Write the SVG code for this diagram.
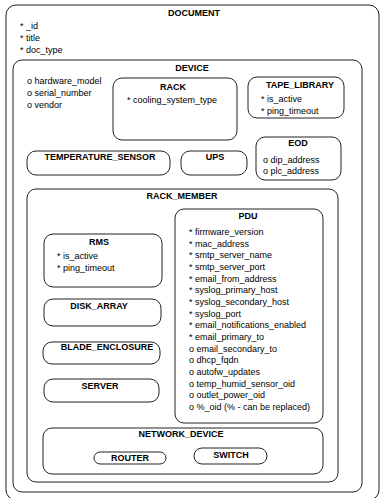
<svg xmlns="http://www.w3.org/2000/svg" width="381" height="498" viewBox="0 0 381 498">
<style>
.box{fill:#fff;stroke:#222;stroke-width:1}
.t{font-family:"Liberation Sans",Arial,sans-serif;font-size:9px;font-weight:bold;fill:#000;text-anchor:middle}
.a{font-family:"Liberation Sans",Arial,sans-serif;font-size:9px;fill:#000}
</style>
<rect width="381" height="498" fill="#fff"/>
<g id="DOCUMENT">
<rect class="box" x="6" y="5" width="373" height="495" rx="10"/>
<text class="t" x="194" y="16">DOCUMENT</text>
<text class="a" x="20" y="29">* _id</text>
<text class="a" x="20" y="41">* title</text>
<text class="a" x="20" y="53">* doc_type</text>
</g>
<g id="DEVICE">
<rect class="box" x="13" y="60" width="349" height="432" rx="9"/>
<text class="t" x="192" y="71">DEVICE</text>
<text class="a" x="27" y="84">o hardware_model</text>
<text class="a" x="27" y="96">o serial_number</text>
<text class="a" x="27" y="108">o vendor</text>
</g>
<g id="RACK">
<rect class="box" x="113" y="78" width="124" height="62" rx="9"/>
<text class="t" x="173" y="90">RACK</text>
<text class="a" x="127" y="103">* cooling_system_type</text>
</g>
<g id="TAPE_LIBRARY">
<rect class="box" x="248" y="77" width="96" height="41" rx="9"/>
<text class="t" x="300" y="88">TAPE_LIBRARY</text>
<text class="a" x="261" y="102">* is_active</text>
<text class="a" x="261" y="114">* ping_timeout</text>
</g>
<g id="TEMPERATURE_SENSOR">
<rect class="box" x="27" y="151" width="143" height="24" rx="9"/>
<text class="t" x="100" y="160">TEMPERATURE_SENSOR</text>
</g>
<g id="UPS">
<rect class="box" x="181" y="151" width="66" height="24" rx="9"/>
<text class="t" x="215" y="160">UPS</text>
</g>
<g id="EOD">
<rect class="box" x="256" y="137" width="85" height="43" rx="9"/>
<text class="t" x="298" y="146">EOD</text>
<text class="a" x="263" y="163">o dip_address</text>
<text class="a" x="263" y="174">o plc_address</text>
</g>
<g id="RACK_MEMBER">
<rect class="box" x="27" y="189" width="311" height="293" rx="9"/>
<text class="t" x="182" y="199">RACK_MEMBER</text>
</g>
<g id="PDU">
<rect class="box" x="175" y="209" width="148" height="214" rx="9"/>
<text class="t" x="248" y="219">PDU</text>
<text class="a" x="189" y="235">* firmware_version</text>
<text class="a" x="189" y="246.7">* mac_address</text>
<text class="a" x="189" y="258.3">* smtp_server_name</text>
<text class="a" x="189" y="270">* smtp_server_port</text>
<text class="a" x="189" y="281.7">* email_from_address</text>
<text class="a" x="189" y="293.3">* syslog_primary_host</text>
<text class="a" x="189" y="305">* syslog_secondary_host</text>
<text class="a" x="189" y="316.7">* syslog_port</text>
<text class="a" x="189" y="328.3">* email_notifications_enabled</text>
<text class="a" x="189" y="340">* email_primary_to</text>
<text class="a" x="189" y="351.7">o email_secondary_to</text>
<text class="a" x="189" y="363.3">o dhcp_fqdn</text>
<text class="a" x="189" y="375">o autofw_updates</text>
<text class="a" x="189" y="386.7">o temp_humid_sensor_oid</text>
<text class="a" x="189" y="398.3">o outlet_power_oid</text>
<text class="a" x="189" y="410">o %_oid (% - can be replaced)</text>
</g>
<g id="RMS">
<rect class="box" x="44" y="234" width="118" height="53" rx="9"/>
<text class="t" x="99" y="245">RMS</text>
<text class="a" x="57" y="259">* is_active</text>
<text class="a" x="57" y="271">* ping_timeout</text>
</g>
<g id="DISK_ARRAY">
<rect class="box" x="44" y="299" width="117" height="27" rx="9"/>
<text class="t" x="99" y="309">DISK_ARRAY</text>
</g>
<g id="BLADE_ENCLOSURE">
<rect class="box" x="43" y="342" width="117" height="22" rx="9"/>
<text class="t" x="107" y="350">BLADE_ENCLOSURE</text>
</g>
<g id="SERVER">
<rect class="box" x="44" y="379" width="115" height="23" rx="9"/>
<text class="t" x="100" y="389">SERVER</text>
</g>
<g id="NETWORK_DEVICE">
<rect class="box" x="43" y="428" width="280" height="46" rx="9"/>
<text class="t" x="181" y="437">NETWORK_DEVICE</text>
</g>
<g id="ROUTER">
<rect class="box" x="94" y="452" width="72" height="12" rx="6"/>
<text class="t" x="130" y="461">ROUTER</text>
</g>
<g id="SWITCH">
<rect class="box" x="194" y="448" width="73" height="16" rx="8"/>
<text class="t" x="231" y="458">SWITCH</text>
</g>
<g id="connectors"></g>
</svg>
